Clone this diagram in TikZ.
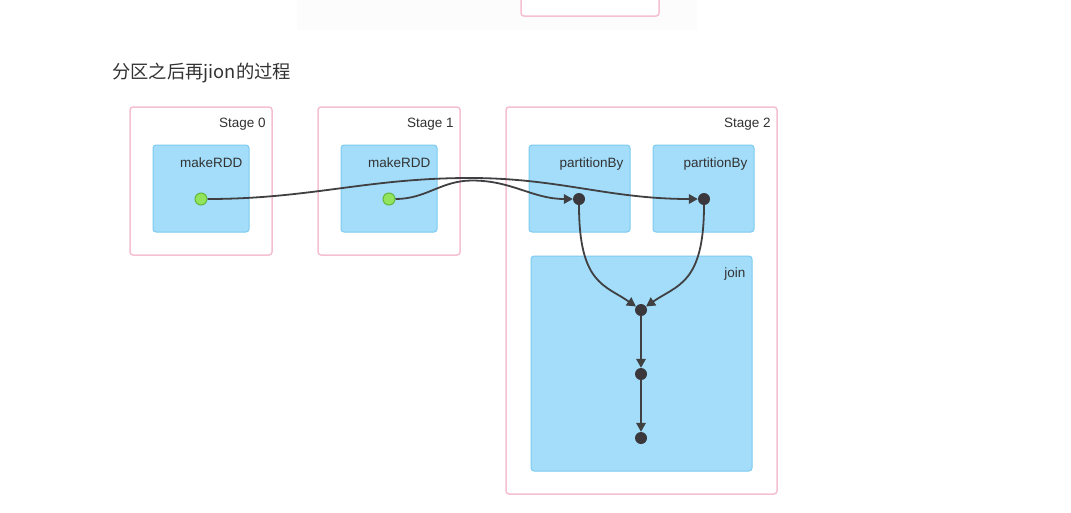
\documentclass[tikz,border=0pt]{standalone}
\usepackage{fontspec}
\setmainfont{Liberation Sans}
\newfontfamily\cjk{Noto Sans CJK SC}
\usetikzlibrary{positioning}
\usetikzlibrary{arrows.meta}

\definecolor{stagepink}{RGB}{245,192,208}
\definecolor{rddfill}{RGB}{163,221,250}
\definecolor{rddline}{RGB}{125,203,240}
\definecolor{dotgreen}{RGB}{146,228,92}
\definecolor{dotgreenline}{RGB}{98,185,60}
\definecolor{dotdark}{RGB}{58,56,60}
\definecolor{flowgray}{RGB}{64,64,66}
\definecolor{txtgray}{RGB}{50,50,50}
\definecolor{pagetint}{RGB}{252,252,253}

\begin{document}
\begin{tikzpicture}[
    x=1pt, y=-1pt,
    node distance=12pt and 7pt,
    stagebox/.style={draw=stagepink, line width=1.5pt, rounded corners=3pt, fill=white},
    rddbox/.style={draw=rddline, line width=1pt, rounded corners=3pt, fill=rddfill},
    boxlabel/.style={inner sep=0pt, text=txtgray, font=\fontsize{13.5}{15}\selectfont},
    srcdot/.style={circle, draw=dotgreenline, fill=dotgreen, line width=1pt, minimum size=12pt, inner sep=0pt},
    opdot/.style={circle, fill=dotdark, minimum size=12pt, inner sep=0pt},
    flow/.style={draw=flowgray, line width=1.8pt, -{Triangle[length=9pt,width=9.5pt]}}
    ]
    \useasboundingbox (0,0) rectangle (1071,512);

    % earlier picture, cut off at the top
    \fill[pagetint] (297,0) rectangle (697,30);
    \draw[stagebox] (521,-10) rectangle (659,16);

    \node[anchor=west, inner sep=0pt, text=txtgray, font=\cjk\fontsize{18.3}{20}\selectfont] (title) at (112,73) {分区之后再jion的过程};

    \node[stagebox, minimum width=142pt, minimum height=148pt] (stage0) at (201,181) {};
    \node[stagebox, minimum width=142pt, minimum height=148pt] (stage1) at (389,181) {};
    \node[stagebox, minimum width=271pt, minimum height=387pt] (stage2) at (641.5,300.5) {};
    \node[boxlabel, below left=of stage0.north east] {Stage 0};
    \node[boxlabel, below left=of stage1.north east] {Stage 1};
    \node[boxlabel, below left=of stage2.north east] {Stage 2};

    \node[rddbox, minimum width=96pt, minimum height=87pt] (rdd0) at (201,188.5) {};
    \node[rddbox, minimum width=96pt, minimum height=87pt] (rdd1) at (389,188.5) {};
    \node[rddbox, minimum width=101pt, minimum height=87pt] (part1) at (579.5,188.5) {};
    \node[rddbox, minimum width=101pt, minimum height=87pt] (part2) at (703.5,188.5) {};
    \node[rddbox, minimum width=221pt, minimum height=215pt] (join) at (641.5,363.5) {};
    \node[boxlabel, below left=13pt and 7pt of rdd0.north east] {makeRDD};
    \node[boxlabel, below left=13pt and 7pt of rdd1.north east] {makeRDD};
    \node[boxlabel, below left=13pt and 7pt of part1.north east] {partitionBy};
    \node[boxlabel, below left=13pt and 7pt of part2.north east] {partitionBy};
    \node[boxlabel, below left=of join.north east] {join};

    \node[srcdot] (src0) at (201,199) {};
    \node[srcdot] (src1) at (389,199) {};
    \node[opdot] (pby1) at (579,199) {};
    \node[opdot] (pby2) at (704,199) {};
    \node[opdot] (join1) at (641,310) {};
    \node[opdot] (join2) at (641,374) {};
    \node[opdot] (join3) at (641,438) {};
    \coordinate (over0) at (470,178);
    \coordinate (over1) at (472,180.5);

    \draw[flow] (src0) to[out=0, in=180] (over0) to[out=0, in=180] (pby2);
    \draw[flow] (src1) to[out=0, in=180] (over1) to[out=0, in=180] (pby1);
    \draw[flow] (pby1) .. controls +(0,85) and +(-36,-25) .. (join1);
    \draw[flow] (pby2) .. controls +(0,85) and +(36,-25) .. (join1);
    \path (join1) edge[flow] (join2)
    (join2) edge[flow] (join3)
    ;

\end{tikzpicture}
\end{document}
